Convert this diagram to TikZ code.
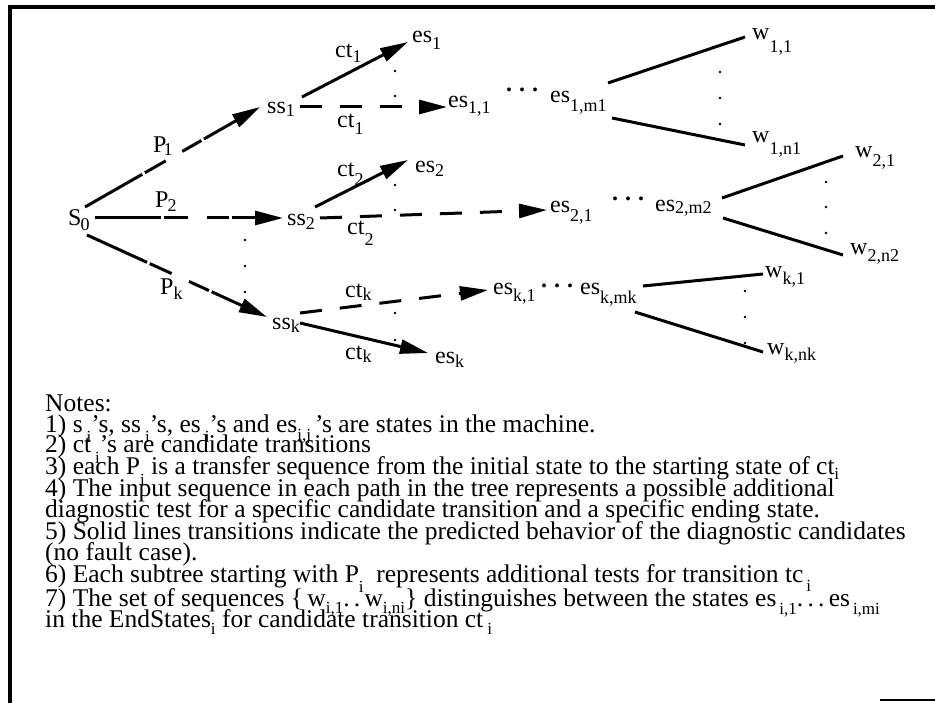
\documentclass[tikz,border=0pt]{standalone}
\usepackage{fontspec}
\setmainfont{Liberation Serif}
\usetikzlibrary{arrows.meta}
\newcommand{\tlo}[2][5pt]{\raisebox{-#1}{\fontsize{18}{18}\selectfont #2}}
\newcommand{\nlo}[2][10pt]{\raisebox{-#1}{\fontsize{17}{17}\selectfont #2}}
\begin{document}
\begin{tikzpicture}[x=1pt,y=-1pt,
 lbl/.style={anchor=base west, inner sep=0pt, font=\fontsize{24}{24}\selectfont},
 note/.style={anchor=base west, inner sep=0pt, font=\fontsize{25.5}{25.5}\selectfont},
 edge/.style={line width=3pt},
 tip/.style={-{Triangle[length=28pt,width=14pt]}},
 pdash/.style={dash pattern=on 66pt off 3pt on 24pt off 19pt on 22pt off 3pt on 80pt off 1pt},
 cdash/.style={dash pattern=on 22pt off 18pt},
 frame/.style={line width=3.5pt},
 vdot/.style={fill=black}
]
\useasboundingbox (0,0) rectangle (935,703);
% frame
\draw[frame] (10,703) -- (10,7) -- (935,7);
\draw[line width=2pt] (880,700) -- (935,700);

% tree labels
\node[lbl] (S0) at (68,226) {S\kern-1pt\tlo{0}};
\node[lbl] (P1) at (153,153) {P\kern-3pt\tlo[3pt]{1}};
\node[lbl] (P2) at (155,208) {P\kern-1pt\tlo[4pt]{2}};
\node[lbl] (Pk) at (160,295) {P\tlo[5pt]{k}};
\node[lbl] (ss1) at (267,114) {ss\tlo[3pt]{1}};
\node[lbl] (ss2) at (287,226) {ss\tlo[4pt]{2}};
\node[lbl] (ssk) at (272,330) {ss\tlo[3pt]{k}};
\node[lbl] (es1) at (412,43) {es\tlo[7pt]{1}};
\node[lbl] (es2) at (415,173) {es\tlo[4pt]{2}};
\node[lbl] (esk) at (435,364) {es\tlo[4pt]{k}};
\node[lbl] (ct1a) at (335,58) {ct\tlo[5pt]{1}};
\node[lbl] (ct1b) at (337,128) {ct\tlo[7pt]{1}};
\node[lbl] (ct2a) at (337,177) {ct\tlo[9pt]{2}};
\node[lbl] (ct2b) at (347,235) {ct\tlo[11pt]{2}};
\node[lbl] (ctka) at (345,298) {ct\tlo[3pt]{k}};
\node[lbl] (ctkb) at (345,360) {ct\tlo[3pt]{k}};
\node[lbl] (es11) at (448,108) {es\tlo[6pt]{1,1}};
\node[lbl] (d1) at (506,92) {\textbf{.\kern7pt.\kern7pt.}};
\node[lbl] (es1m) at (550,103) {es\tlo[9pt]{1,m1}};
\node[lbl] (w11) at (752,40) {w\tlo[13pt]{1,1}};
\node[lbl] (w1n) at (752,143) {w\tlo[12pt]{1,n1}};
\node[lbl] (es21) at (550,213) {es\tlo[9pt]{2,1}};
\node[lbl] (d2) at (612,201) {\textbf{.\kern7pt.\kern7pt.}};
\node[lbl] (es2m) at (655,212) {es\tlo[2pt]{2,m2}};
\node[lbl] (w21) at (855,158) {w\tlo[9pt]{2,1}};
\node[lbl] (w2n) at (850,255) {w\tlo[7pt]{2,n2}};
\node[lbl] (esk1) at (493,295) {es\tlo[7pt]{k,1}};
\node[lbl] (dk) at (541,288) {\textbf{.\kern7pt.\kern7pt.}};
\node[lbl] (eskm) at (580,295) {es\tlo[9pt]{k,mk}};
\node[lbl] (wk1) at (765,278) {w\tlo[7pt]{k,1}};
\node[lbl] (wkn) at (767,355) {w\tlo[6pt]{k,nk}};

% connectors from S0
\draw[edge,tip,pdash] ([shift={(17,-19)}]S0.base west) -- ([shift={(-7,-7)}]ss1.base west);
\draw[edge,tip,pdash] ([shift={(27,-8)}]S0.base west) -- ([shift={(-4,-8)}]ss2.base west);
\draw[edge,tip,pdash] ([shift={(19,9)}]S0.base west) -- ([shift={(-5,-13)}]ssk.base west);
% candidate transitions
\draw[edge,tip] ([shift={(35,-17)}]ss1.base west) -- ([shift={(-4,-1)}]es1.base west);
\draw[edge,tip,cdash] ([shift={(33,-7)}]ss1.base west) -- ([shift={(-1,-1)}]es11.base west);
\draw[edge,tip] ([shift={(28,-19)}]ss2.base west) -- ([shift={(-7,-13)}]es2.base west);
\draw[edge,tip,cdash] ([shift={(33,-8)}]ss2.base west) -- ([shift={(-3,-3)}]es21.base west);
\draw[edge,tip,cdash] ([shift={(28,-17)}]ssk.base west) -- ([shift={(-5,-5)}]esk1.base west);
\draw[edge,tip] ([shift={(28,-7)}]ssk.base west) -- ([shift={(-7,-11)}]esk.base west);
% distinguishing sequences
\draw[edge] ([shift={(58,-20)}]es1m.base west) -- ([shift={(-7,-3)}]w11.base west);
\draw[edge] ([shift={(62,15)}]es1m.base west) -- ([shift={(-7,2)}]w1n.base west);
\draw[edge] ([shift={(67,-14)}]es2m.base west) -- ([shift={(-12,-2)}]w21.base west);
\draw[edge] ([shift={(68,6)}]es2m.base west) -- ([shift={(-7,0)}]w2n.base west);
\draw[edge] ([shift={(63,-9)}]eskm.base west) -- ([shift={(-2,-4)}]wk1.base west);
\draw[edge] ([shift={(55,17)}]eskm.base west) -- ([shift={(-4,-3)}]wkn.base west);

% vertical ellipsis dots
\foreach \px/\py in {395/71,395/96,395/185,395/210,395/313,395/340,
  245/240,245/266,245/292,720/72,720/98,720/124,826/182,826/207,826/233,
  745/291,745/317,745/343}
  \fill[vdot] (\px,\py) circle (1.4pt);

% notes
\node[note] (n0) at (45,411) {Notes:};
\node[note] (n1) at (45,432) {1) s\kern4pt\nlo{i}'s, ss\kern4pt\nlo{i}'s, es\kern4pt\nlo{i}'s and es\nlo[8pt]{i,j}\kern4pt's are states in the machine.};
\node[note] (n2) at (45,453) {2) ct\kern4pt\nlo{i}'s are candidate transitions};
\node[note] (n3) at (45,475) {3) each P\nlo{i} is a transfer sequence from the initial state to the starting state of ct\nlo[5pt]{i}};
\node[note] (n4) at (45,496) {4) The input sequence in each path in the tree represents a possible additional};
\node[note] (n5) at (45,517) {diagnostic test for a specific candidate transition and a specific ending state.};
\node[note] (n6) at (45,539) {5) Solid lines transitions indicate the predicted behavior of the diagnostic candidates};
\node[note] (n7) at (45,560) {(no fault case).};
\node[note] (n8) at (45,582) {6) Each subtree starting with P\nlo{i}\ \ represents additional tests for transition tc\kern3pt\nlo[9pt]{i}};
\node[note] (n9) at (45,606) {7) The set of sequences \{\,w\nlo[7pt]{i,1}.\,.\,w\nlo[7pt]{i,ni}\} distinguishes between the states es\kern3pt\nlo[8pt]{i,1}.\,.\,.\,es\kern3pt\nlo[8pt]{i,mi}};
\node[note] (n10) at (45,627) {in the EndStates\nlo[7pt]{i} for candidate transition ct\kern4pt\nlo[7pt]{i}};
\end{tikzpicture}
\end{document}
